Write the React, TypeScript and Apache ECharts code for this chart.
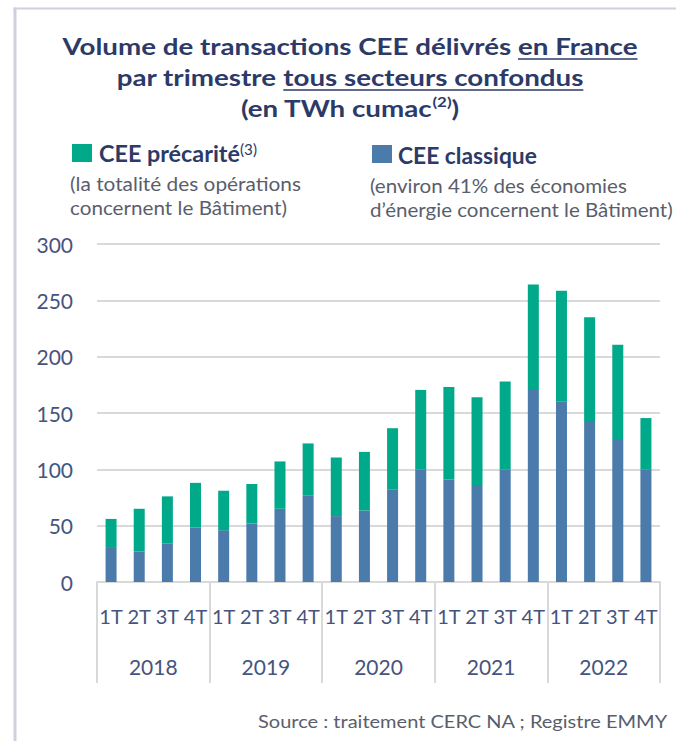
import React, { useEffect, useRef } from 'react';
import * as echarts from 'echarts';

// ---------- data ----------
const years = ['2018', '2019', '2020', '2021', '2022'];
const quarterLabels = ['1T', '2T', '3T', '4T'];
const categories = years.flatMap((y) => quarterLabels.map((q) => `${q}|${y}`));
// TWh cumac, CEE classique (bottom, blue)
const ceeClassique = [31, 27, 34, 48.5, 46, 52, 65, 77, 58.5, 63.5, 82, 100, 91, 86, 100, 170.5, 160.5, 143, 127, 100];
// TWh cumac, CEE précarité (top, green)
const ceePrecarite = [25, 38, 42, 39.5, 35, 35, 42, 46, 52, 52, 54.5, 70.5, 82, 78, 78, 93.5, 98, 92, 83.5, 45.5];
const yMin = 0;
const yMax = 300;
const yInterval = 50;

// ---------- styles ----------
const FONT = 'Lato';
const NAVY = '#2C3A68';
const GREY = '#5A5E6C';
const AXIS_TXT = '#45547E';
const GREEN = '#00A98A';
const BLUE = '#4A7BAB';
const GRIDC = '#D9D9D9';
const FRAME = '#CFCFE0';

let ctx: CanvasRenderingContext2D | null = null;
function measure(text: string, size: number, weight: string | number) {
  if (!ctx) ctx = document.createElement('canvas').getContext('2d');
  ctx!.font = `${weight} ${size}px ${FONT}`;
  return ctx!.measureText(text).width;
}

type Seg = { text: string; size: number; weight: string | number; dy?: number; underline?: boolean };

function layoutLine(
  segs: Seg[],
  opts: { left?: number; center?: number; right?: number; width?: number; scale?: number; y: number; color: string }
) {
  const widths = segs.map((s) => measure(s.text, s.size, s.weight));
  const natural = widths.reduce((a, b) => a + b, 0);
  const scale = opts.scale ?? (opts.width ? opts.width / natural : 1);
  const total = natural * scale;
  let x =
    opts.left ?? (opts.center != null ? opts.center - total / 2 : (opts.right as number) - total);
  const els: any[] = [];
  segs.forEach((s, i) => {
    const w = widths[i] * scale;
    els.push({
      type: 'text',
      x,
      y: opts.y + (s.dy || 0),
      scaleX: scale,
      silent: true,
      style: {
        text: s.text,
        fontSize: s.size,
        fontWeight: s.weight,
        fontFamily: FONT,
        fill: opts.color,
        align: 'left',
        verticalAlign: 'middle',
      },
    });
    if (s.underline) {
      const uy = opts.y + s.size * 0.57;
      els.push({
        type: 'line',
        silent: true,
        shape: { x1: x, y1: uy, x2: x + w, y2: uy },
        style: { stroke: opts.color, lineWidth: 1.5 },
      });
    }
    x += w;
  });
  return { els, scale };
}

function buildGraphics() {
  const T = 23;
  const line1 = layoutLine(
    [
      { text: 'Volume de transactions CEE délivrés ', size: T, weight: 'bold' },
      { text: 'en France', size: T, weight: 'bold', underline: true },
    ],
    { center: 350, width: 575, y: 46, color: NAVY }
  );
  const s = line1.scale;
  const line2 = layoutLine(
    [
      { text: 'par trimestre ', size: T, weight: 'bold' },
      { text: 'tous secteurs confondus', size: T, weight: 'bold', underline: true },
    ],
    { center: 350, scale: s, y: 77, color: NAVY }
  );
  const line3 = layoutLine(
    [
      { text: '(en TWh cumac', size: T, weight: 'bold' },
      { text: '(2)', size: 14, weight: 'bold', dy: -6 },
      { text: ')', size: T, weight: 'bold' },
    ],
    { center: 350, scale: s, y: 108, color: NAVY }
  );

  const legL = layoutLine(
    [
      { text: 'CEE précarité', size: 23, weight: 'bold' },
      { text: '(3)', size: 15, weight: 'normal', dy: -4 },
    ],
    { left: 99, width: 158, y: 153, color: NAVY }
  );
  const legLs1 = layoutLine([{ text: '(la totalité des opérations', size: 19, weight: 'normal' }], {
    left: 70,
    width: 231,
    y: 183,
    color: GREY,
  });
  const legLs2 = layoutLine([{ text: 'concernent le Bâtiment)', size: 19, weight: 'normal' }], {
    left: 70,
    width: 217,
    y: 207,
    color: GREY,
  });
  const legR = layoutLine([{ text: 'CEE classique', size: 23, weight: 'bold' }], {
    left: 398,
    width: 139,
    y: 155,
    color: NAVY,
  });
  const legRs1 = layoutLine([{ text: '(environ 41% des économies', size: 19, weight: 'normal' }], {
    left: 370,
    width: 257,
    y: 185,
    color: GREY,
  });
  const legRs2 = layoutLine([{ text: 'd’énergie concernent le Bâtiment)', size: 19, weight: 'normal' }], {
    left: 370,
    width: 303,
    y: 209,
    color: GREY,
  });
  const source = layoutLine([{ text: 'Source : traitement CERC NA ; Registre EMMY', size: 17, weight: 'normal' }], {
    right: 668,
    width: 410,
    y: 722,
    color: GREY,
  });

  return [
    { type: 'rect', silent: true, shape: { x: 13.5, y: 7.5, width: 3, height: 740 }, style: { fill: FRAME } },
    { type: 'rect', silent: true, shape: { x: 13.5, y: 7.5, width: 670, height: 2 }, style: { fill: FRAME } },
    { type: 'rect', silent: true, shape: { x: 72, y: 144, width: 20, height: 18 }, style: { fill: GREEN } },
    { type: 'rect', silent: true, shape: { x: 372, y: 145, width: 20, height: 18 }, style: { fill: BLUE } },
    ...line1.els,
    ...line2.els,
    ...line3.els,
    ...legL.els,
    ...legLs1.els,
    ...legLs2.els,
    ...legR.els,
    ...legRs1.els,
    ...legRs2.els,
    ...source.els,
  ];
}

export default function App() {
  const ref = useRef<HTMLDivElement>(null);
  useEffect(() => {
    if (!ref.current) return;
    const chart = echarts.init(ref.current, undefined, { renderer: 'svg' });
    const option: any = {
      animation: false,
      backgroundColor: '#ffffff',
      grid: { left: 97, right: 16, top: 244, bottom: 159, containLabel: false },
      xAxis: [
        {
          type: 'category',
          data: categories,
          boundaryGap: true,
          position: 'bottom',
          axisLine: { lineStyle: { color: GRIDC, width: 2 } },
          axisTick: { show: false },
          axisLabel: {
            interval: 0,
            formatter: (v: string) => v.split('|')[0],
            fontSize: 20,
            fontFamily: FONT,
            color: AXIS_TXT,
            margin: 24,
          },
        },
        {
          type: 'category',
          data: years,
          boundaryGap: true,
          position: 'bottom',
          axisLine: { show: false },
          axisTick: { show: true, interval: 0, length: 101, lineStyle: { color: GRIDC, width: 2 } },
          axisLabel: { interval: 0, fontSize: 21, fontFamily: FONT, color: AXIS_TXT, margin: 74 },
          splitLine: { show: false },
        },
      ],
      yAxis: {
        type: 'value',
        min: yMin,
        max: yMax,
        interval: yInterval,
        axisLine: { show: false },
        axisTick: { show: false },
        axisLabel: { fontSize: 21, fontFamily: FONT, color: AXIS_TXT, margin: 24 },
        splitLine: { lineStyle: { color: GRIDC, width: 2 } },
      },
      series: [
        {
          name: 'CEE classique',
          type: 'bar',
          stack: 'total',
          data: ceeClassique,
          barWidth: 11,
          itemStyle: { color: BLUE },
        },
        {
          name: 'CEE précarité',
          type: 'bar',
          stack: 'total',
          data: ceePrecarite,
          barWidth: 11,
          itemStyle: { color: GREEN },
        },
      ],
      graphic: { elements: buildGraphics() },
    };
    chart.setOption(option);
    return () => chart.dispose();
  }, []);
  return (
    <div
      ref={ref}
      style={{ position: 'absolute', left: 0, top: 0, width: 676, height: 741, background: '#fff' }}
    />
  );
}
